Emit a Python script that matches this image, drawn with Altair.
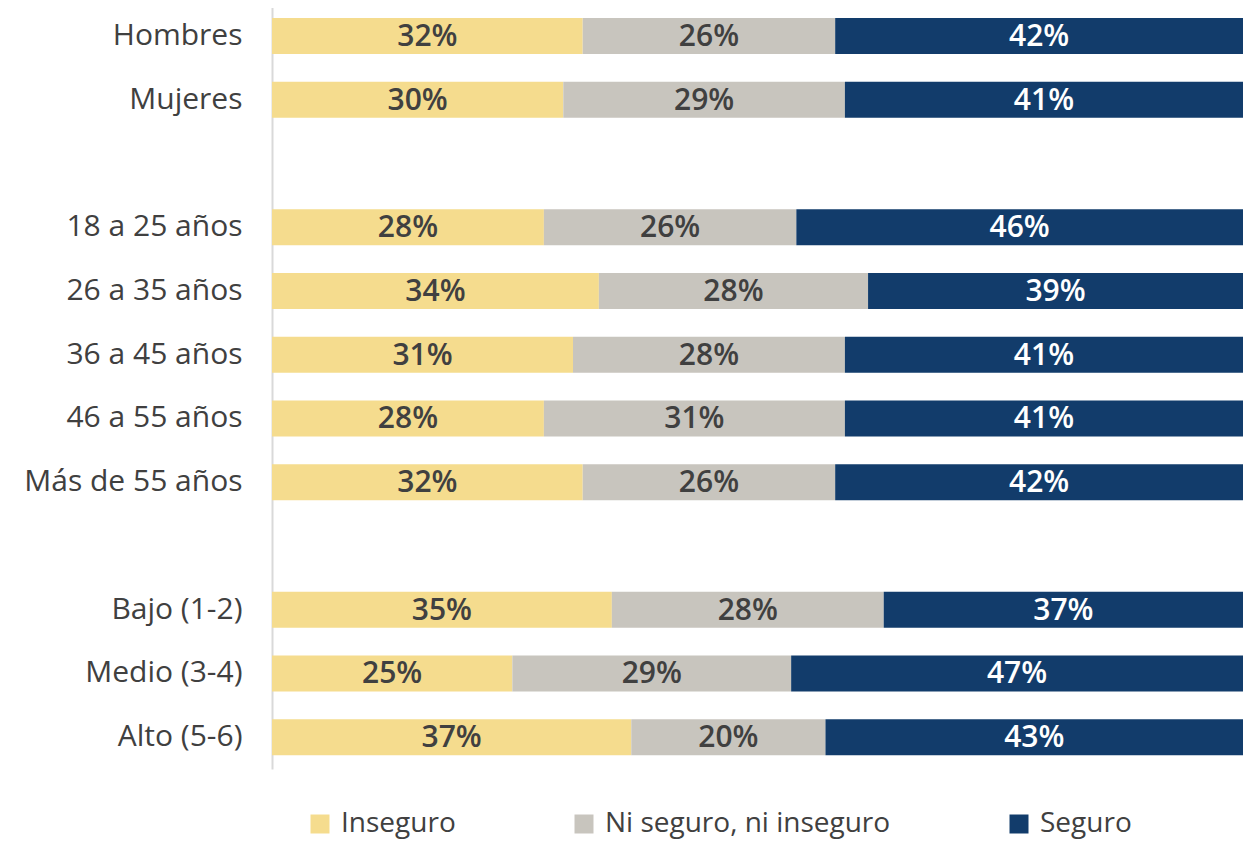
import altair as alt
import pandas as pd

groups = ["Hombres", "Mujeres", "18 a 25 años", "26 a 35 años", "36 a 45 años",
          "46 a 55 años", "Más de 55 años", "Bajo (1-2)", "Medio (3-4)", "Alto (5-6)"]
inseguro = [32, 30, 28, 34, 31, 28, 32, 35, 25, 37]
ni_seguro = [26, 29, 26, 28, 28, 31, 26, 28, 29, 20]
seguro = [42, 41, 46, 39, 41, 41, 42, 37, 47, 43]

series = ["Inseguro", "Ni seguro, ni inseguro", "Seguro"]
colors = ["#F5DC8E", "#C8C5BE", "#123C6B"]
row_order = ["Hombres", "Mujeres", "g1", "18 a 25 años", "26 a 35 años", "36 a 45 años",
             "46 a 55 años", "Más de 55 años", "g2", "Bajo (1-2)", "Medio (3-4)", "Alto (5-6)"]

rows = []
for i, g in enumerate(groups):
    for k, (s, vals) in enumerate(zip(series, [inseguro, ni_seguro, seguro])):
        rows.append({"group": g, "serie": s, "value": vals[i], "order": k})
df = pd.DataFrame(rows)

FONT = "Open Sans"
TXT = "#404040"
FS = 30
LFS = 28

base = alt.Chart(df).transform_stack(
    stack="value", groupby=["group"], as_=["x0", "x1"], offset="normalize",
    sort=[alt.SortField("order", order="ascending")]
).transform_calculate(
    mid="(datum.x0 + datum.x1) / 2",
    label="datum.value + '%'"
)

y_enc = alt.Y("group:N", scale=alt.Scale(domain=row_order), title=None,
              axis=alt.Axis(labelExpr="(datum.value == 'g1' || datum.value == 'g2') ? '' : datum.value",
                            labelFont=FONT, labelFontSize=FS, labelColor=TXT, labelPadding=30,
                            ticks=False, domainColor="#D9D9D9", domainWidth=2, labelLimit=400,
                            minExtent=264, maxExtent=264))

bars = base.mark_bar(size=36).encode(
    x=alt.X("x0:Q", scale=alt.Scale(domain=[0, 1], nice=False), axis=None),
    x2="x1:Q",
    y=y_enc,
    color=alt.Color("serie:N", scale=alt.Scale(domain=series, range=colors), title=None,
                    legend=alt.Legend(orient="none", direction="horizontal", legendX=34, legendY=806,
                                      symbolType="square", symbolSize=361, symbolStrokeWidth=0,
                                      labelFont=FONT, labelFontSize=LFS, labelColor=TXT,
                                      labelOffset=7, columnPadding=114, labelLimit=500)),
)

texts = base.mark_text(font=FONT, fontSize=FS, fontWeight=600, baseline="middle", align="center", dy=1).encode(
    x=alt.X("mid:Q", scale=alt.Scale(domain=[0, 1], nice=False)),
    y=alt.Y("group:N", scale=alt.Scale(domain=row_order)),
    text="label:N",
    color=alt.condition(alt.datum.serie == "Seguro", alt.value("white"), alt.value(TXT)),
)

chart = alt.layer(bars, texts).properties(
    width=971, height=765,
    padding={"left": 0, "top": -4, "right": 0, "bottom": 3},
).configure_view(stroke=None).configure_axis(grid=False)

chart.save("out.html", embed_options={"renderer": "svg", "actions": False})
